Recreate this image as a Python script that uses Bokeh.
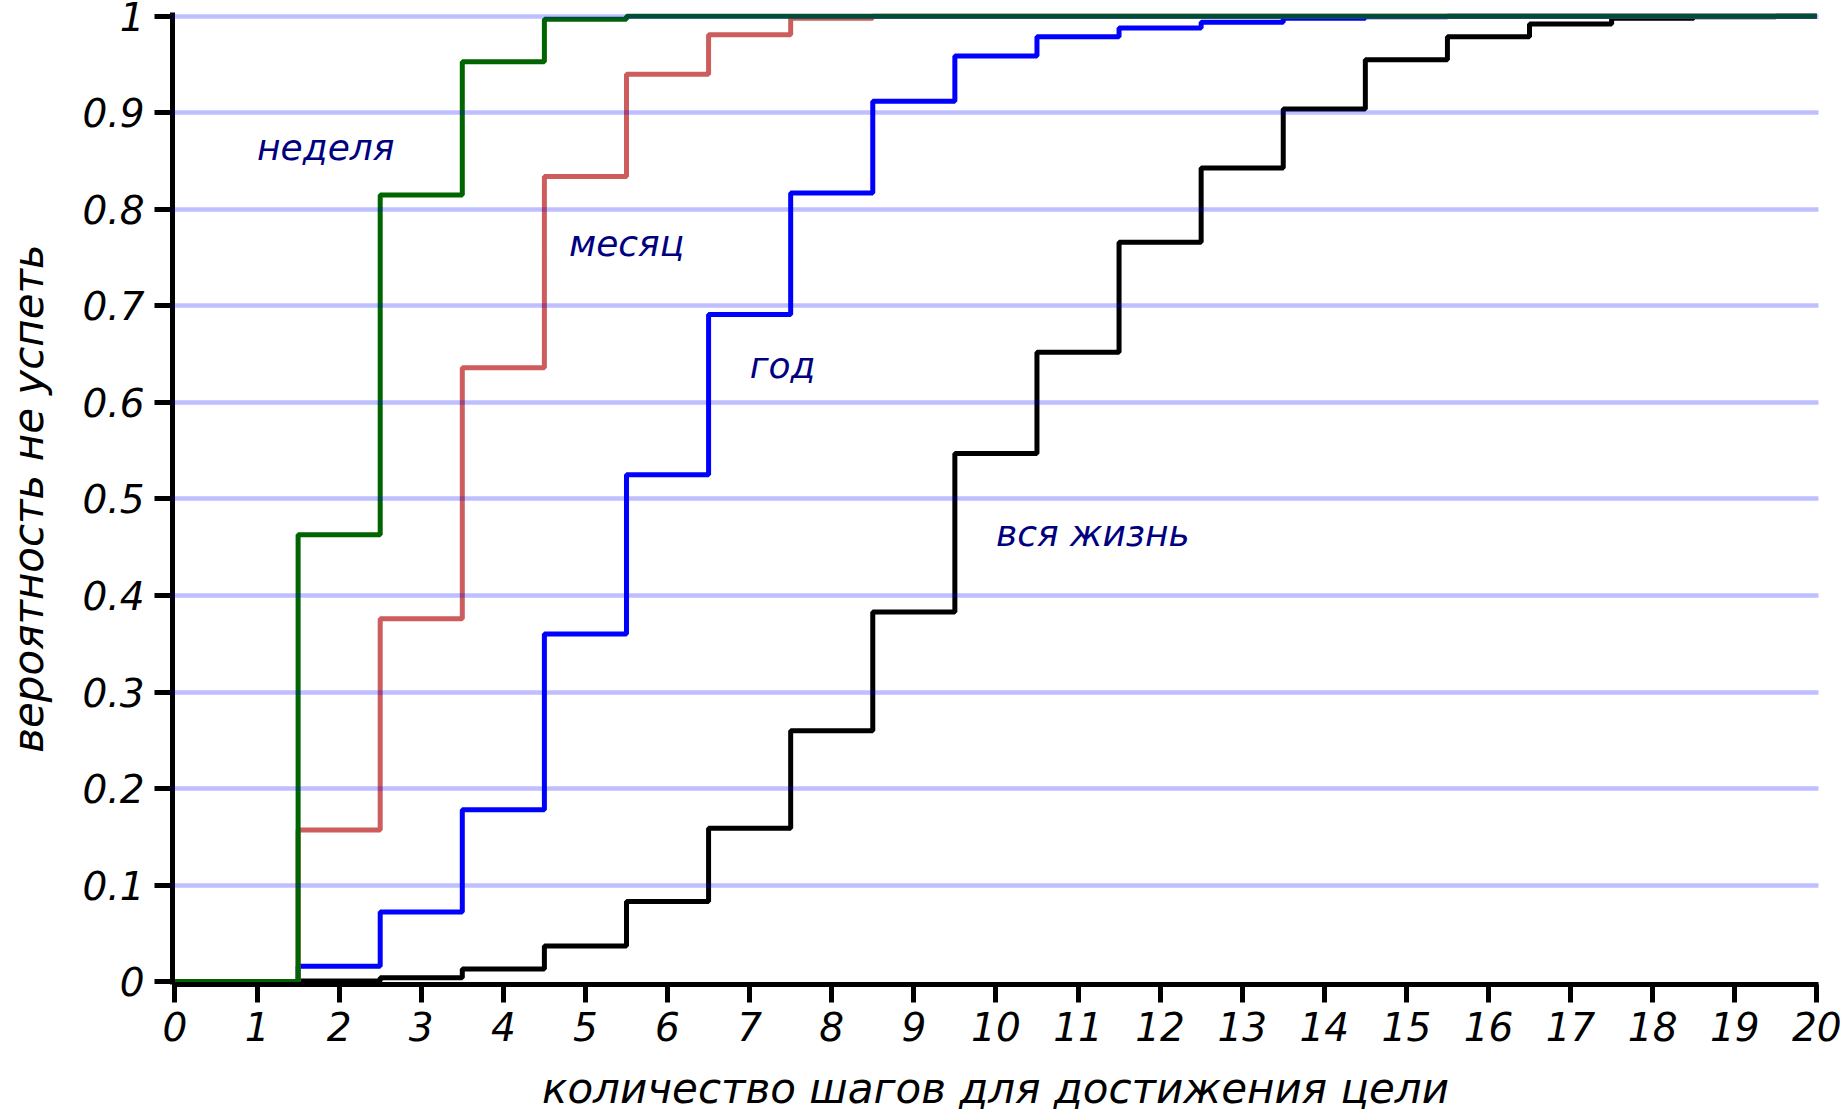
from bokeh.plotting import figure
from bokeh.models import Range1d, FixedTicker
from bokeh.core.properties import value
from bokeh.embed import file_html
from bokeh.resources import INLINE

# ---- data ----
steps = list(range(0, 21))
week  = [0, 0, 0.463, 0.815, 0.953, 0.997, 1, 1, 1, 1, 1, 1, 1, 1, 1, 1, 1, 1, 1, 1, 1]
month = [0, 0, 0.157, 0.376, 0.636, 0.834, 0.940, 0.981, 0.998, 1, 1, 1, 1, 1, 1, 1, 1, 1, 1, 1, 1]
year  = [0, 0, 0.016, 0.072, 0.178, 0.360, 0.525, 0.691, 0.817, 0.912, 0.959, 0.979, 0.988,
         0.994, 0.998, 0.9995, 1, 1, 1, 1, 1]
life  = [0, 0, 0.0005, 0.004, 0.013, 0.037, 0.083, 0.159, 0.260, 0.383, 0.547, 0.652, 0.766,
         0.843, 0.904, 0.955, 0.979, 0.992, 0.998, 0.9995, 1]

labels   = ["неделя", "месяц", "год", "вся жизнь"]
label_x  = [1.0, 4.8, 7.0, 10.0]
label_y  = [0.864, 0.765, 0.638, 0.464]

x_ticks = list(range(0, 21))
y_ticks = [0, 0.1, 0.2, 0.3, 0.4, 0.5, 0.6, 0.7, 0.8, 0.9, 1]
y_tick_labels = ["0", "0.1", "0.2", "0.3", "0.4", "0.5", "0.6", "0.7", "0.8", "0.9", "1"]
grid_ticks = [0.1, 0.2, 0.3, 0.4, 0.5, 0.6, 0.7, 0.8, 0.9, 1]

x_title = "количество шагов для достижения цели"
y_title = "вероятность не успеть"

FONT = "DejaVu Sans"

p = figure(width=1842, height=1115, output_backend="svg", toolbar_location=None,
           x_range=Range1d(-0.03, 20.02), y_range=Range1d(-0.003, 1.004),
           min_border_left=172, min_border_right=24, min_border_top=12, min_border_bottom=129)
p.outline_line_color = None
p.background_fill_color = "white"
p.border_fill_color = "white"

series = [(life, "black"), (year, "#0000ff"), (month, "indianred"), (week, "#006400")]
for ys, col in series:
    p.step(steps, ys, mode="center", line_color=col, line_width=5)

p.text(x=label_x, y=label_y, text=labels, text_font=value(FONT), text_font_style="italic",
       text_font_size="36px", text_color="#000080", text_baseline="alphabetic", text_align="left")

p.xgrid.visible = False
p.ygrid.ticker = FixedTicker(ticks=grid_ticks)
p.ygrid.grid_line_color = "blue"
p.ygrid.grid_line_alpha = 0.25
p.ygrid.grid_line_width = 4.5
p.ygrid.level = "overlay"

for ax in (p.xaxis[0], p.yaxis[0]):
    ax.axis_line_width = 5
    ax.axis_line_color = "black"
    ax.major_tick_line_width = 5
    ax.major_tick_line_color = "black"
    ax.major_tick_out = 18
    ax.major_tick_in = 0
    ax.minor_tick_line_color = None
    ax.major_label_text_font = FONT
    ax.major_label_text_font_style = "italic"
    ax.major_label_text_font_size = "39px"
    ax.major_label_text_color = "black"
    ax.axis_label_text_font = FONT
    ax.axis_label_text_font_style = "italic"
    ax.axis_label_text_font_size = "42px"
    ax.axis_label_text_color = "black"

p.xaxis[0].ticker = FixedTicker(ticks=x_ticks)
p.yaxis[0].ticker = FixedTicker(ticks=y_ticks)
p.yaxis[0].major_label_overrides = dict(zip(y_ticks, y_tick_labels))
p.xaxis[0].axis_label = x_title
p.yaxis[0].axis_label = y_title
p.xaxis[0].major_label_standoff = 9
p.yaxis[0].major_label_standoff = 10
p.xaxis[0].axis_label_standoff = 20
p.yaxis[0].axis_label_standoff = 26

open("out.html", "w").write(file_html(p, INLINE))
